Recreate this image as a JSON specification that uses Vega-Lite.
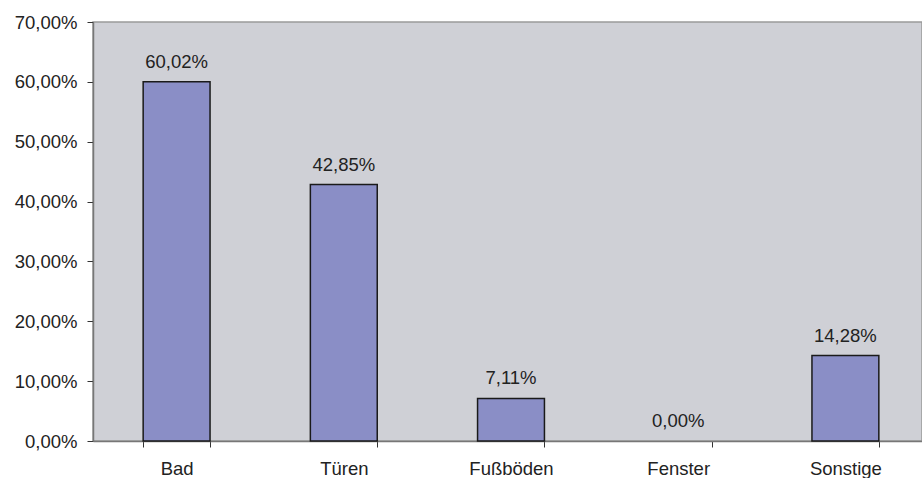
{
  "$schema": "https://vega.github.io/schema/vega-lite/v6.json",
  "width": 829,
  "height": 419,
  "autosize": {"type": "none"},
  "padding": {"left": 93, "top": 22, "right": 0, "bottom": 37},
  "background": "#ffffff",
  "config": {
    "locale": {"number": {"decimal": ",", "thousands": ".", "grouping": [3], "currency": ["", " €"]}},
    "view": {"fill": "#cfd0d6", "stroke": "#9a9a9a", "strokeWidth": 1.5},
    "font": "Liberation Sans",
    "axis": {"labelFont": "Liberation Sans", "labelFontSize": 18.5, "labelColor": "#222222", "grid": false, "title": null}
  },
  "data": {
    "values": [
      {"kategorie": "Bad", "anteil": 0.6002},
      {"kategorie": "Türen", "anteil": 0.4285},
      {"kategorie": "Fußböden", "anteil": 0.0711},
      {"kategorie": "Fenster", "anteil": 0.0},
      {"kategorie": "Sonstige", "anteil": 0.1428}
    ]
  },
  "encoding": {
    "x": {
      "field": "kategorie", "type": "nominal", "sort": null,
      "scale": {"range": [0, 836], "paddingInner": 0.6, "paddingOuter": 0.3},
      "axis": {"labelAngle": 0, "tickBand": "extent", "tickSize": 6, "tickColor": "#333333", "domainColor": "#777777", "domainWidth": 1.5, "labelPadding": 12, "labelBaseline": "top"}
    },
    "y": {
      "field": "anteil", "type": "quantitative",
      "scale": {"domain": [0, 0.7]},
      "axis": {"format": ".2%", "values": [0, 0.1, 0.2, 0.3, 0.4, 0.5, 0.6, 0.7], "tickSize": 6, "tickColor": "#333333", "domainColor": "#777777", "domainWidth": 1.5, "labelPadding": 10}
    }
  },
  "layer": [
    {
      "mark": {"type": "bar", "fill": "#8a8ec6", "stroke": "#1a1a1a", "strokeWidth": 1.5},
      "encoding": {
        "strokeOpacity": {"condition": {"test": "datum.anteil == 0", "value": 0}, "value": 1}
      }
    },
    {
      "mark": {"type": "text", "baseline": "alphabetic", "dy": -14, "fontSize": 18.5, "color": "#222222", "font": "Liberation Sans"},
      "encoding": {"text": {"field": "anteil", "type": "quantitative", "format": ".2%"}}
    }
  ]
}
